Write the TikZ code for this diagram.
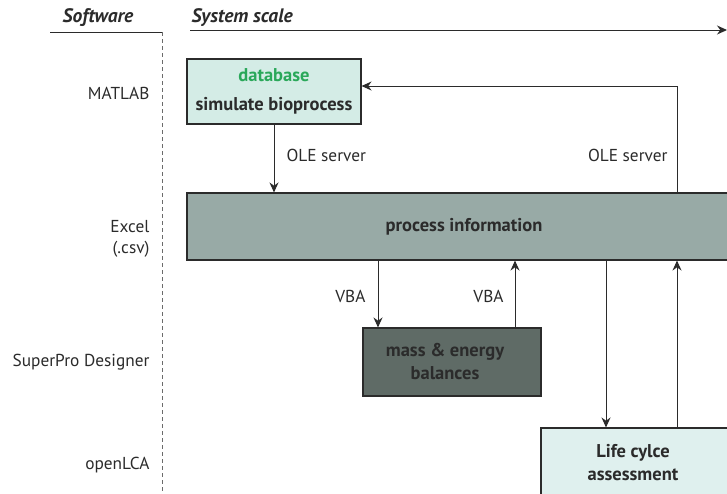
\documentclass[tikz,border=0pt]{standalone}
\usepackage{fontspec}
\setmainfont{PT Sans}
\usetikzlibrary{arrows.meta}
\definecolor{boxA}{HTML}{D4ECE6}
\definecolor{boxB}{HTML}{98AAA6}
\definecolor{boxC}{HTML}{5F6B66}
\definecolor{boxD}{HTML}{DFF0EE}
\definecolor{dbgreen}{HTML}{2AA85A}
\definecolor{ink}{HTML}{2B2B2B}
\tikzset{
  btext/.style={inner sep=0pt, align=center, font=\bfseries\fontsize{18.5}{23}\selectfont, text=ink},
  box/.style={btext, draw=ink, line width=1.1pt},
  arr/.style={draw=ink, line width=1pt, -{Stealth[length=10pt,width=9pt]}},
  lbl/.style={font=\fontsize{17.3}{21}\selectfont, text=ink},
  sw/.style={font=\fontsize{17.3}{21}\selectfont, text=ink, anchor=east, align=right},
  hdr/.style={font=\bfseries\itshape\fontsize{19.5}{22}\selectfont, text=ink},
}
\begin{document}
\begin{tikzpicture}[x=1pt,y=-1pt]
\useasboundingbox (0,0) rectangle (727,493);
\clip (0,0) rectangle (727,493);
% header
\node[hdr] (hsw) at (98,18) {Software};
\node[hdr, anchor=west] (hsys) at (188,18) {System scale};
\coordinate (l1) at (50,32);
\coordinate (l2) at (162,32);
\coordinate (l3) at (162,493);
\draw[ink, line width=0.9pt] (l1) -- (l2);
\draw[ink!70, line width=1pt, dash pattern=on 4pt off 3pt] (l2) -- (l3);
\coordinate (a1) at (190,30);
\coordinate (a2) at (727,30);
\draw[arr] (a1) -- (a2);
% software labels
\node[sw] (mat) at (153,93) {MATLAB};
\node[sw] (exc) at (153,239) {Excel\\(.csv)};
\node[sw] (spd) at (153,362) {SuperPro Designer};
\node[sw] (olc) at (153,465) {openLCA};
% boxes
\node[box, fill=boxA, minimum width=174pt, minimum height=65pt] (matlab) at (274,91.5)
  {\textcolor{dbgreen}{database}\\[6pt]simulate bioprocess};
\node[box, fill=boxB, minimum width=553pt, minimum height=67pt] (proc) at (463.5,226.5) {};
\node[btext] (ptext) at (464,227) {process information};
\node[box, fill=boxC, minimum width=178pt, minimum height=68pt] (mass) at (452,362) {};
\node[btext] (mtext) at (445,362) {mass \& energy\\balances};
\node[box, fill=boxD, minimum width=199pt, minimum height=77pt] (lca) at (640.5,466.5) {};
\node[btext] (ltext) at (633,463) {Life cylce\\assessment};
% connector x positions
\coordinate (x1) at (274,0);
\coordinate (x2) at (677,0);
\coordinate (x3) at (378,0);
\coordinate (x4) at (515,0);
\coordinate (x5) at (606,0);
\coordinate (y1) at (0,86);
% arrows
\draw[arr] (matlab.south -| x1) -- (proc.north -| x1);
\node[lbl, anchor=west] (ole1) at (283,155) {OLE server};
\draw[arr] (proc.north -| x2) -- (y1 -| x2) -- (matlab.east |- y1);
\node[lbl, anchor=east] (ole2) at (671,155) {OLE server};
\draw[arr] (proc.south -| x3) -- (mass.north -| x3);
\node[lbl, anchor=east] (vba1) at (369,296) {VBA};
\draw[arr] (mass.north -| x4) -- (proc.south -| x4);
\node[lbl, anchor=east] (vba2) at (507,296) {VBA};
\draw[arr] (proc.south -| x5) -- (lca.north -| x5);
\draw[arr] (lca.north -| x2) -- (proc.south -| x2);
\end{tikzpicture}
\end{document}
